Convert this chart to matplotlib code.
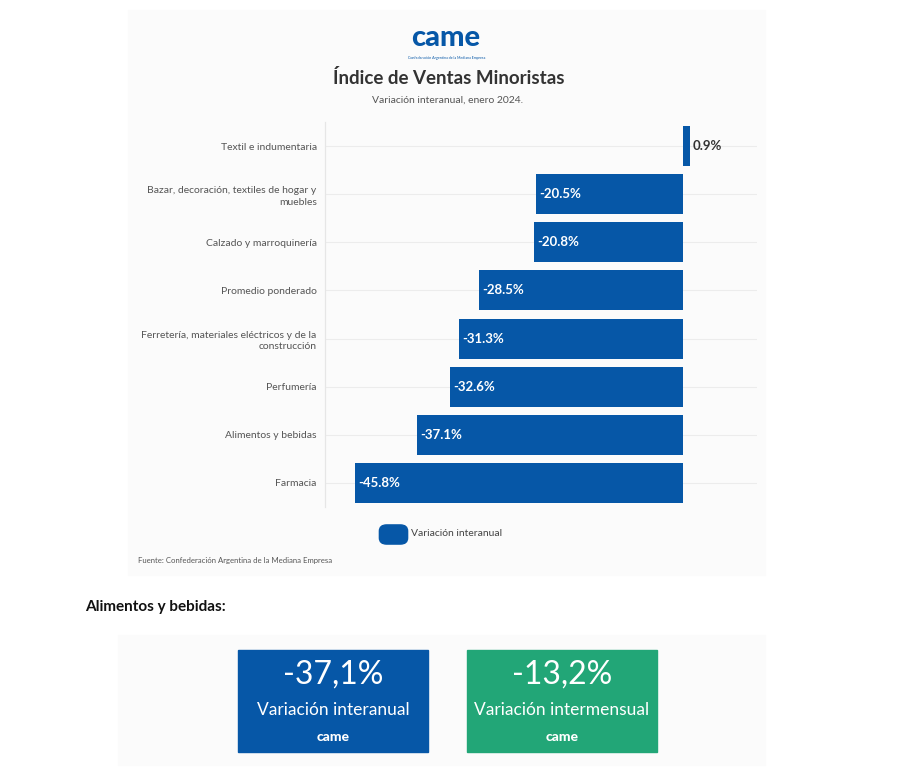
import matplotlib.pyplot as plt
from matplotlib.patches import FancyBboxPatch, Rectangle

plt.rcParams['font.family'] = ['Lato', 'DejaVu Sans']

# Data
categories = ['Textil e indumentaria',
              'Bazar, decoración, textiles de hogar y\nmuebles',
              'Calzado y marroquinería',
              'Promedio ponderado',
              'Ferretería, materiales eléctricos y de la\nconstrucción',
              'Perfumería',
              'Alimentos y bebidas',
              'Farmacia']
values = [0.9, -20.5, -20.8, -28.5, -31.3, -32.6, -37.1, -45.8]
series_name = 'Variación interanual'

box_values = ['-37,1%', '-13,2%']
box_labels = ['Variación interanual', 'Variación intermensual']

BLUE = '#0657a7'
GREEN = '#22a677'

W, H = 904, 770
fig = plt.figure(figsize=(W / 100, H / 100), dpi=100)


def fx(x):
    return x / W


def fy(y):
    return 1 - y / H


# faint panel backgrounds (behind everything)
fig.patches.append(Rectangle((fx(128), fy(575)), fx(765) - fx(128), fy(10) - fy(575),
                             transform=fig.transFigure, color='#fbfbfb', zorder=-5))
fig.patches.append(Rectangle((fx(118), fy(765)), fx(765) - fx(118), fy(635) - fy(765),
                             transform=fig.transFigure, color='#fbfbfb', zorder=-5))

# logo + header
fig.text(fx(446), fy(38), 'came', ha='center', va='center', fontsize=21,
         fontweight='black', color=BLUE)
fig.text(fx(447), fy(58), 'Confederación Argentina de la Mediana Empresa', ha='center',
         va='center', fontsize=2.6, color=BLUE)
fig.text(fx(449), fy(78), 'Índice de Ventas Minoristas', ha='center', va='center',
         fontsize=13.5, fontweight='bold', color='#333333')
fig.text(fx(448), fy(100), 'Variación interanual, enero 2024.', ha='center', va='center',
         fontsize=7.5, color='#555555')

# bar chart
ax = fig.add_axes([fx(325), fy(507), fx(757) - fx(325), fy(122) - fy(507)])
ax.set_facecolor('none')
y = list(range(len(categories)))
ax.barh(y, values, height=0.83, color=BLUE, zorder=3)
ax.set_xlim(-50, 10.3)
ax.set_ylim(len(categories) - 0.5, -0.5)
ax.set_yticks(y)
ax.set_yticklabels(categories, fontsize=7.5, color='#555555', linespacing=1.35)
ax.tick_params(axis='y', length=0, pad=6)
ax.set_xticks([])
for s in ['top', 'right', 'bottom']:
    ax.spines[s].set_visible(False)
ax.spines['left'].set_color('#e6e6e6')
ax.spines['left'].set_linewidth(0.9)
ax.grid(axis='y', color='#ececec', linewidth=0.8, zorder=0)

for yi, v in zip(y, values):
    txt = f'{v:.1f}%'
    if v < 0:
        ax.text(v + 0.45, yi, txt, ha='left', va='center', fontsize=9.5,
                fontweight='bold', color='white', zorder=4)
    else:
        ax.text(v + 0.45, yi, txt, ha='left', va='center', fontsize=9.5,
                fontweight='bold', color='#333333', zorder=4)

# legend
fig.patches.append(FancyBboxPatch((fx(383), fy(541)), fx(404) - fx(383), fy(528) - fy(541),
                                  boxstyle='round,pad=0.004,rounding_size=0.008',
                                  transform=fig.transFigure, color=BLUE))
fig.text(fx(411), fy(534), series_name, ha='left', va='center', fontsize=7.5, color='#444444')

fig.text(fx(138), fy(561), 'Fuente: Confederación Argentina de la Mediana Empresa',
         ha='left', va='center', fontsize=5.6, color='#555555')

# bottom section
fig.text(fx(85), fy(607), 'Alimentos y bebidas:', ha='left', va='center', fontsize=11,
         fontweight='bold', color='#111111')

for x0, col, val, lab in zip([238, 467], [BLUE, GREEN], box_values, box_labels):
    fig.patches.append(Rectangle((fx(x0), fy(752)), fx(x0 + 190) - fx(x0), fy(650) - fy(752),
                                 transform=fig.transFigure, color=col, zorder=1))
    cx = fx(x0 + 95)
    fig.text(cx, fy(675), val, ha='center', va='center', fontsize=23,
             fontweight='normal', color='white', zorder=2)
    fig.text(cx, fy(710), lab, ha='center', va='center', fontsize=12.5,
             fontweight='normal', color='white', zorder=2)
    fig.text(cx, fy(737), 'came', ha='center', va='center', fontsize=10,
             fontweight='black', color='white', zorder=2)

fig.savefig('out.png', dpi=100)
